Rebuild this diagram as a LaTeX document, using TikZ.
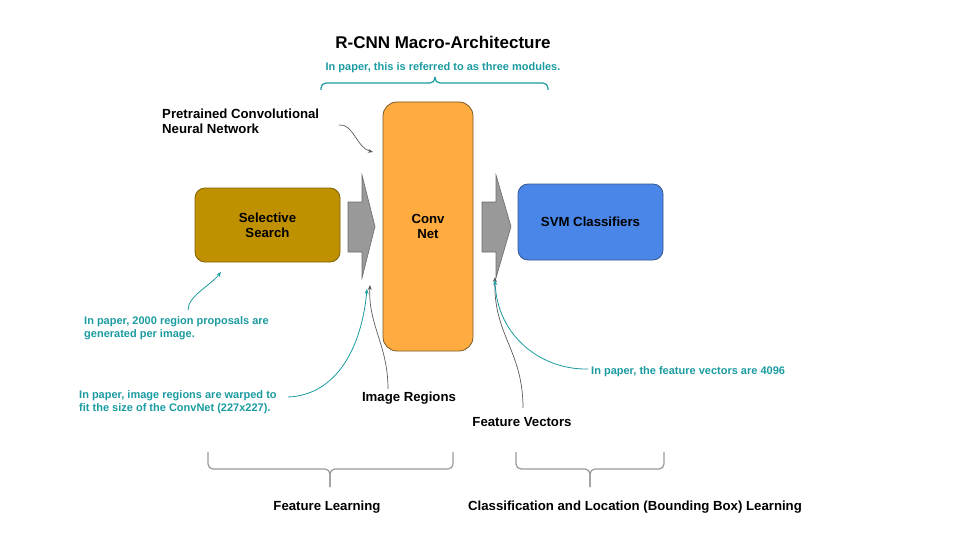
\documentclass[tikz,border=0pt]{standalone}
\usepackage{fontspec}
\setmainfont{Liberation Sans}
\usetikzlibrary{arrows.meta}

\definecolor{gold}{HTML}{BF9000}
\definecolor{goldline}{HTML}{7F6000}
\definecolor{convorange}{HTML}{FFAB40}
\definecolor{convline}{HTML}{7A5A2A}
\definecolor{svmblue}{HTML}{4A86E8}
\definecolor{svmline}{HTML}{34568C}
\definecolor{noteteal}{HTML}{1A9BA1}
\definecolor{blockgray}{HTML}{999999}
\definecolor{blockline}{HTML}{6B6B6B}
\definecolor{curvegray}{HTML}{5A5A5A}

\begin{document}
\begin{tikzpicture}[
    x=1pt, y=-1pt,
    % Style for the three module boxes
    module/.style={rectangle, rounded corners=10pt, draw, line width=0.8pt,
        align=center, font=\bfseries\fontsize{13.2}{15}\selectfont, inner sep=0pt},
    % Style for the big grey block arrows
    blockarrow/.style={fill=blockgray, draw=blockline, line width=0.6pt},
    % Black captions and teal side notes
    caption/.style={font=\bfseries\fontsize{13.2}{15.5}\selectfont, align=left, inner sep=0pt},
    note/.style={font=\bfseries\fontsize{11}{12.5}\selectfont, text=noteteal, align=left, inner sep=0pt},
    % Pointer curves
    greypointer/.style={draw=curvegray, line width=0.7pt, -{Stealth[length=5pt, width=4pt]}},
    tealpointer/.style={draw=noteteal, line width=0.8pt, -{Stealth[length=5pt, width=4pt]}},
    brace/.style={line width=1.2pt, rounded corners=5pt}
]

    \useasboundingbox (0,0) rectangle (960,540);

    % --- 1. Title and top note ---
    \node[font=\bfseries\fontsize{17}{20}\selectfont] (title) at (443,42) {R-CNN Macro-Architecture};
    \node[note] (modnote) at (443,68) {In paper, this is referred to as three modules.};

    \draw[brace, draw=noteteal] (321,90) |- (435,83) -- (435,77);
    \draw[brace, draw=noteteal] (548,90) |- (435,83) -- (435,77);

    % --- 2. Module boxes ---
    \node[module, fill=gold, draw=goldline, minimum width=145pt, minimum height=74pt]
        (ss) at (267.5,225) {Selective\\Search};
    \node[module, fill=convorange, draw=convline, rounded corners=14pt,
        minimum width=90pt, minimum height=249pt] (conv) at (428,226.5) {Conv\\Net};
    \node[module, fill=svmblue, draw=svmline, minimum width=145pt, minimum height=76pt]
        (svm) at (590.5,222) {SVM Classifiers};

    % --- 3. Block arrows between the modules ---
    \draw[blockarrow] (348,202) -- (362,202) -- (362,175) -- (375,226.5)
        -- (362,278) -- (362,252) -- (348,252) -- cycle;
    \draw[blockarrow] (482,202) -- (496,202) -- (496,175) -- (511,226.5)
        -- (496,278) -- (496,252) -- (482,252) -- cycle;

    % --- 4. Captions ---
    \node[caption, anchor=west] (pretrained) at (162,121.5) {Pretrained Convolutional\\Neural Network};
    \node[caption] (regions) at (409,398) {Image Regions};
    \node[caption] (features) at (522,422) {Feature Vectors};

    % --- 5. Teal notes ---
    \node[note, anchor=west] (ssnote) at (84,328) {In paper, 2000 region proposals are\\generated per image.};
    \node[note, anchor=west] (warpnote) at (79,402) {In paper, image regions are warped to\\fit the size of the ConvNet (227x227).};
    \node[note, anchor=west] (vecnote) at (591,372) {In paper, the feature vectors are 4096};

    % --- 6. Pointer curves ---
    \coordinate (pretrainedstart) at (339,125);
    \coordinate (pretrainedtip) at (373,152);
    \coordinate (ssnotestart) at (188,310);
    \coordinate (sstip) at (221,272);
    \coordinate (warpstart) at (288,397);
    \coordinate (warptip) at (367,289);
    \coordinate (regionsstart) at (388,389);
    \coordinate (regionstip) at (370,285);
    \coordinate (featuresstart) at (523,408);
    \coordinate (featurestip) at (495,277);
    \coordinate (vecstart) at (588,369);
    \coordinate (vectip) at (495,280);

    \draw[greypointer] (pretrainedstart) .. controls (353,123) and (357,148) .. (pretrainedtip);
    \draw[tealpointer] (ssnotestart) .. controls (188,296) and (210,286) .. (sstip);
    \draw[tealpointer] (warpstart) .. controls (338,395) and (362,345) .. (warptip);
    \draw[greypointer] (regionsstart) .. controls (388,345) and (368,325) .. (regionstip);
    \draw[greypointer] (featuresstart) .. controls (523,350) and (493,335) .. (featurestip);
    \draw[tealpointer] (vecstart) .. controls (540,370) and (497,335) .. (vectip);

    % --- 7. Bottom braces and stage labels ---
    \draw[brace, draw=blockgray] (208,452) |- (330,469) -- (330,487);
    \draw[brace, draw=blockgray] (453,452) |- (330,469) -- (330,487);
    \draw[brace, draw=blockgray] (516,452) |- (590,469) -- (590,487);
    \draw[brace, draw=blockgray] (664,452) |- (590,469) -- (590,487);

    \node[caption] (featlearn) at (327,507) {Feature Learning};
    \node[caption] (clslearn) at (635,507) {Classification and Location (Bounding Box) Learning};

\end{tikzpicture}
\end{document}
